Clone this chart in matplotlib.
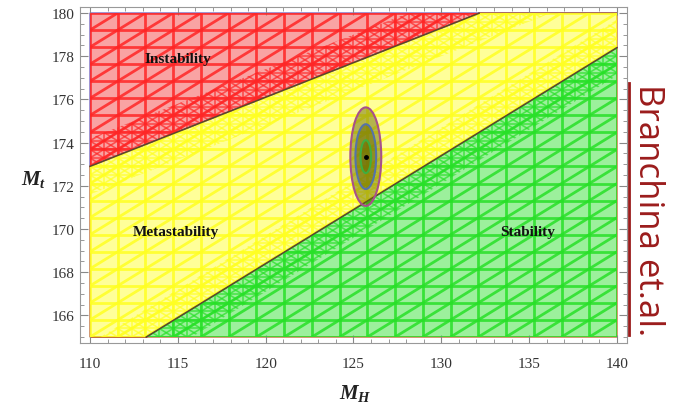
import numpy as np
import matplotlib
matplotlib.use("Agg")
import matplotlib.pyplot as plt
from matplotlib.patches import Polygon, Ellipse
from matplotlib.collections import LineCollection
from matplotlib.lines import Line2D
from matplotlib.ticker import MultipleLocator

plt.rcParams['mathtext.fontset'] = 'custom'
plt.rcParams['mathtext.it'] = 'Liberation Serif:italic:bold'
plt.rcParams['mathtext.rm'] = 'Liberation Serif:bold'

# phase boundaries (top mass vs higgs mass), straight over this range
mh_edge = [110.0, 140.0]
mt_instab = [172.9, 182.5]
mt_stab = [163.4, 178.4]

# measured point and its 1/2/3 sigma ellipse half-widths
mh_c, mt_c = 125.7, 173.35
sig_mh = [0.30, 0.59, 0.88]
sig_mt = [0.76, 1.50, 2.28]

region_labels = ["Instability", "Metastability", "Stability"]
label_pos = [(115.0, 177.9), (114.9, 169.9), (134.9, 169.9)]

x0, x1, y0, y1 = 110, 140, 165, 180
nmesh = 19

fig = plt.figure(figsize=(6.87, 4.06), dpi=100)
ax = fig.add_axes([80/687, 62/406, 547/687, 336/406])
ax.set_xlim(x0 - 10/17.57, x1 + 10/17.57)
ax.set_ylim(y0 - 6/21.6, y1 + 6/21.6)

xs = np.linspace(x0, x1, 601)
f_in = np.interp(xs, mh_edge, mt_instab)
f_st = np.interp(xs, mh_edge, mt_stab)
cl = lambda v: np.clip(v, y0, y1)


def region(lower, upper):
    return np.vstack([np.column_stack([xs, lower]),
                      np.column_stack([xs[::-1], upper[::-1]])])


def mesh(step_div, both=False):
    dx = (x1 - x0) / step_div
    dy = (y1 - y0) / step_div
    segs = []
    for k in range(step_div + 1):
        segs.append([(x0 + k*dx, y0), (x0 + k*dx, y1)])
        segs.append([(x0, y0 + k*dy), (x1, y0 + k*dy)])
    for k in range(-step_div, step_div + 1):
        segs.append([(x0 + k*dx, y0), (x0 + (k + step_div)*dx, y1)])
        if both:
            segs.append([(x0 + k*dx, y1), (x0 + (k + step_div)*dx, y0)])
    return segs


w = 1.3
regions = [
    # fill, mesh colour, edge colour, polygon, refined bands
    ('#f9a3a3', '#ff2626', '#7a6ac0', region(cl(f_in), np.full_like(xs, y1)),
     [region(cl(f_in), cl(f_in + w))]),
    ('#ffff99', '#ffff22', '#c0703a', region(cl(f_st), cl(f_in)),
     [region(cl(np.maximum(f_in - w, f_st)), cl(f_in)),
      region(cl(f_st), cl(np.minimum(f_st + w, f_in)))]),
    ('#9cf09c', '#28e028', '#c0703a', region(np.full_like(xs, y0), cl(f_st)),
     [region(cl(f_st - w), cl(f_st))]),
]

for fc, mc, ec, verts, bands in regions:
    poly = Polygon(verts, closed=True, facecolor=fc, edgecolor=ec, lw=1.0, zorder=1)
    ax.add_patch(poly)
    lc = LineCollection(mesh(nmesh), colors=mc, linewidths=2.0, alpha=0.85, zorder=2)
    ax.add_collection(lc)
    lc.set_clip_path(poly)
    for b in bands:
        bp = Polygon(b, closed=True, facecolor='none', edgecolor='none')
        ax.add_patch(bp)
        lb = LineCollection(mesh(2*nmesh, both=True), colors=mc, linewidths=1.2,
                            alpha=0.7, zorder=2)
        ax.add_collection(lb)
        lb.set_clip_path(bp)

# boundaries
for f in (f_in, f_st):
    m = (f >= y0) & (f <= y1)
    ax.plot(xs[m], f[m], color='#5b4530', lw=1.1, zorder=3)

# experimental ellipses
ring_edges = ['#3fae3f', '#5573a8', '#a8508a']
for a, b, ec in zip(sig_mh, sig_mt, ring_edges):
    ax.add_patch(Ellipse((mh_c, mt_c), 2*a, 2*b, facecolor='#6a6a00', alpha=0.5,
                         edgecolor='none', zorder=4))
    ax.add_patch(Ellipse((mh_c, mt_c), 2*a, 2*b, facecolor='none', edgecolor=ec,
                         lw=1.5, zorder=5))
ax.plot([mh_c], [mt_c], 'o', color='black', ms=2.5, zorder=6)

for txt, (px, py) in zip(region_labels, label_pos):
    ax.text(px, py, txt, ha='center', va='center', family='Liberation Serif',
            fontweight='bold', fontsize=11, color='#111111', zorder=7)

# frame and ticks
for s in ax.spines.values():
    s.set_color('#999999')
    s.set_linewidth(0.8)
ax.xaxis.set_major_locator(MultipleLocator(5))
ax.xaxis.set_minor_locator(MultipleLocator(1))
ax.yaxis.set_major_locator(MultipleLocator(2))
ax.yaxis.set_minor_locator(MultipleLocator(0.5))
ax.tick_params(which='both', direction='in', top=True, right=True, color='#888888')
ax.tick_params(which='major', length=6, width=0.8, labelsize=11, labelcolor='#333333')
ax.tick_params(which='minor', length=3, width=0.6)
ax.tick_params(axis='x', which='major', pad=10)
ax.tick_params(axis='y', which='major', pad=4)
for lab in ax.get_xticklabels() + ax.get_yticklabels():
    lab.set_family('Liberation Serif')

fig.text(355/687, 1 - 394/406, r'$M_H$', ha='center', va='center', fontsize=15, color='#222222')
fig.text(34/687, 1 - 180/406, r'$M_t$', ha='center', va='center', fontsize=15, color='#222222')

note = fig.text(648/687, 1 - 210/406, 'Branchina et.al.', rotation=270, ha='center',
                va='center', family='Open Sans', fontsize=25, color='#9b1c1c')
fig.canvas.draw()
bb = note.get_window_extent().transformed(fig.transFigure.inverted())
fig.add_artist(Line2D([bb.x0 - 0.003, bb.x0 - 0.003], [bb.y0, bb.y1],
                      transform=fig.transFigure, color='#9b1c1c', lw=2))

fig.savefig('out.png', dpi=100)
